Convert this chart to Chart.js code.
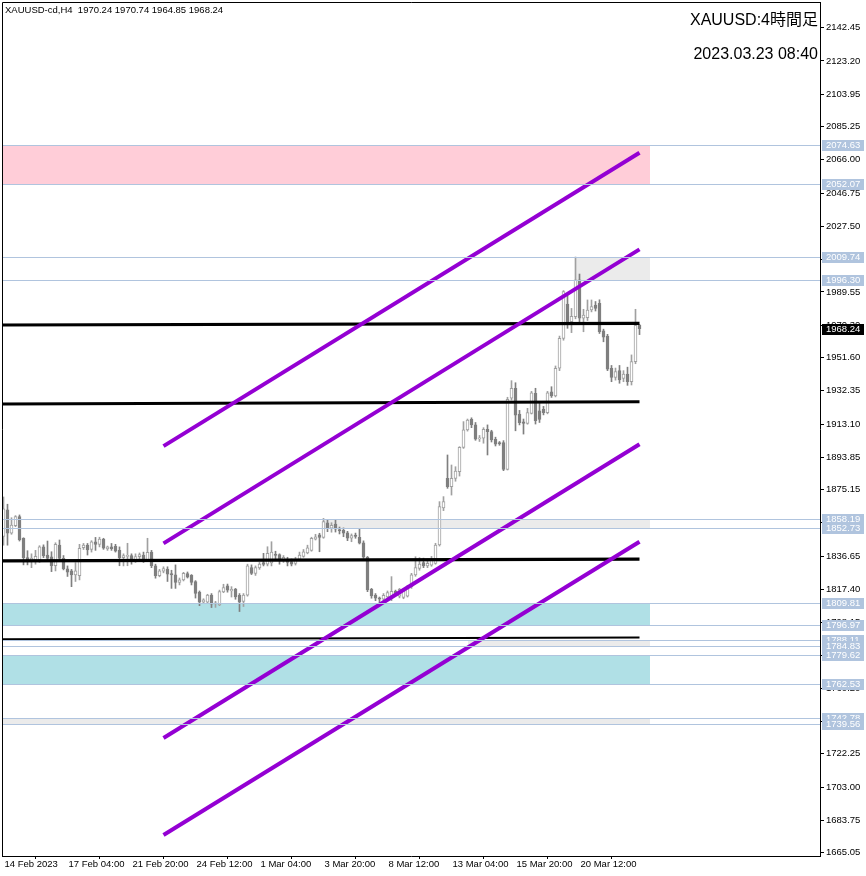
<!DOCTYPE html>
<html><head><meta charset="utf-8">
<script src="https://cdn.jsdelivr.net/npm/chart.js@4.4.0/dist/chart.umd.min.js"></script>
<style>html,body{margin:0;padding:0;background:#fff;}canvas{display:block;}</style>
</head><body>
<canvas id="c" width="866" height="876"></canvas>
<script>
// ---------------- DATA ----------------
const candleOpen = [1848,1863.4,1849.9,1854.3,1859.5,1847.0,1835.8,1834.0,1834.5,1834.4,
1842.1,1837.3,1836.3,1831.1,1843.1,1835.4,1829.3,1828.1,1825.8,1825.4,
1841.5,1843.0,1840.5,1845.0,1843.5,1846.6,1840.8,1842.0,1842.3,1840.0,
1835.8,1836.5,1837.0,1834.6,1836.4,1837.3,1834.6,1839.0,1831.1,1825.4,
1828.0,1829.2,1826.5,1825.8,1821.4,1822.9,1826.5,1825.5,1822.0,1815.9,
1810.0,1810.0,1814.1,1809.0,1808.5,1816.0,1819.5,1816.5,1817.6,1814.0,
1810.5,1814.1,1830.0,1826.7,1829.9,1833.0,1832.0,1832.8,1837.9,1837.5,
1834.5,1834.4,1833.5,1832.5,1834.8,1836.5,1838.5,1840.0,1846.5,1849.0,
1847.5,1856.0,1852.8,1855.2,1852.0,1851.6,1850.2,1847.0,1848.8,1847.6,
1844.4,1836.0,1817.4,1814.1,1812.5,1811.7,1813.0,1812.5,1816.5,1813.5,
1812.8,1813.5,1819.0,1825.8,1829.5,1832.9,1831.0,1831.5,1832.5,1843.1,
1864.5,1881.7,1876.8,1881.7,1885.6,1899.6,1909.7,1915.8,1912.6,1904.5,
1904.9,1910.1,1908.7,1904.3,1902.3,1902.3,1886.9,1928.0,1933.8,1918.9,
1914.4,1913.5,1919.3,1930.9,1920.8,1921.6,1919.7,1931.8,1929.3,1945.4,
1962.7,1982.5,1972.3,1975.3,1996.5,1974.3,1974.6,1979.1,1982.0,1983.0,
1967.0,1964.0,1945.4,1940.1,1944.0,1939.5,1942.0,1937.6,1949.2,1970.24];
const candleHigh = [1870.9,1866.7,1858.9,1860.1,1860.5,1847.3,1839.8,1838.0,1840.0,1842.7,
1843.2,1845.4,1839.2,1844.4,1846.0,1837.0,1831.0,1829.0,1832.9,1843.5,
1844.0,1844.0,1845.6,1847.5,1847.6,1847.0,1842.5,1844.0,1843.5,1842.0,
1838.0,1844.1,1838.0,1838.0,1838.5,1839.0,1847.0,1840.0,1832.0,1829.0,
1830.5,1830.5,1828.5,1831.6,1824.0,1827.3,1827.5,1826.0,1822.5,1816.5,
1812.0,1814.6,1815.0,1810.5,1817.0,1820.4,1820.5,1819.0,1818.0,1815.0,
1815.0,1832.0,1831.6,1831.0,1833.0,1838.3,1842.1,1845.0,1839.5,1838.0,
1837.0,1836.0,1835.0,1836.0,1839.0,1840.5,1843.0,1847.6,1849.3,1849.9,
1858.5,1857.6,1856.0,1857.9,1853.5,1853.0,1851.0,1849.5,1850.0,1852.2,
1845.5,1836.5,1818.0,1815.0,1813.0,1815.0,1816.5,1824.8,1817.0,1818.0,
1817.5,1819.8,1826.7,1836.3,1835.8,1835.5,1835.0,1836.5,1844.1,1868.2,
1871.1,1895.2,1889.4,1888.4,1900.0,1914.5,1916.0,1916.7,1914.0,1906.5,
1911.0,1912.6,1909.5,1905.5,1903.0,1903.5,1928.6,1938.2,1937.0,1921.0,
1916.0,1922.2,1932.0,1933.8,1926.0,1923.3,1932.0,1934.7,1946.7,1964.0,
1990.3,1988.7,1980.0,2009.74,1999.9,1979.5,1984.9,1984.9,1984.0,1985.0,
1968.0,1965.0,1947.0,1945.5,1947.0,1944.0,1946.0,1953.1,1979.5,1970.74];
const candleLow = [1843.0,1843.0,1849.3,1853.7,1845.4,1831.6,1831.6,1830.0,1832.0,1833.0,
1835.8,1834.4,1827.7,1828.1,1834.4,1828.7,1824.9,1819.0,1822.0,1822.9,
1840.5,1837.3,1839.0,1840.0,1842.0,1840.6,1840.0,1840.0,1839.0,1831.1,
1831.0,1831.1,1832.0,1833.0,1835.0,1833.0,1833.5,1830.0,1823.9,1824.7,
1827.0,1822.0,1818.0,1818.0,1820.0,1822.3,1824.0,1820.0,1812.4,1808.0,
1809.5,1809.5,1806.9,1807.0,1808.0,1815.5,1815.8,1813.0,1811.7,1804.6,
1807.5,1813.5,1826.0,1825.5,1829.0,1831.0,1831.0,1831.0,1835.0,1832.0,
1833.0,1831.0,1831.0,1831.5,1834.0,1836.0,1838.0,1839.5,1846.0,1839.2,
1847.0,1850.8,1850.5,1850.6,1849.5,1847.9,1845.6,1845.0,1847.0,1843.7,
1835.4,1816.1,1812.3,1810.9,1809.8,1809.8,1811.0,1810.9,1814.0,1812.5,
1812.0,1813.0,1818.0,1825.0,1828.5,1830.0,1830.0,1830.8,1832.0,1842.5,
1863.0,1875.9,1872.0,1880.0,1883.0,1899.0,1909.0,1911.0,1903.7,1903.0,
1902.0,1895.2,1902.7,1900.4,1900.8,1886.1,1886.5,1927.0,1909.2,1912.6,
1907.3,1913.0,1918.9,1913.1,1914.0,1918.4,1919.0,1928.5,1928.8,1944.0,
1961.6,1968.5,1966.0,1974.0,1972.3,1966.5,1973.0,1978.0,1978.5,1965.5,
1960.7,1944.0,1937.6,1938.5,1936.7,1937.6,1935.5,1935.7,1948.0,1964.85];
const candleClose = [1864.0,1849.9,1854.7,1859.5,1846.0,1835.8,1834.0,1835.5,1836.5,1842.1,
1836.9,1835.4,1831.1,1843.5,1835.4,1829.3,1827.4,1825.8,1828.1,1841.2,
1843.1,1840.2,1845.0,1843.5,1846.6,1841.2,1842.0,1841.0,1839.6,1835.8,
1837.0,1837.1,1834.6,1836.4,1837.5,1834.6,1838.9,1831.1,1825.4,1828.1,
1829.5,1826.2,1825.8,1821.4,1822.9,1826.7,1824.5,1821.4,1815.1,1810.0,
1811.4,1814.1,1808.8,1809.3,1816.2,1818.4,1817.0,1817.5,1813.1,1810.0,
1814.1,1831.1,1826.7,1830.0,1832.1,1831.8,1838.3,1839.0,1837.1,1834.4,
1836.0,1833.0,1832.0,1834.5,1837.3,1839.2,1841.5,1847.0,1847.8,1847.5,
1856.6,1852.8,1854.5,1852.3,1851.2,1849.9,1847.0,1848.5,1848.0,1844.1,
1836.0,1817.1,1813.6,1812.3,1811.8,1814.0,1815.5,1816.3,1815.0,1817.5,
1816.5,1819.0,1825.8,1830.0,1832.0,1831.0,1832.5,1834.8,1843.1,1865.3,
1868.2,1876.8,1881.7,1885.9,1899.6,1909.7,1915.45,1912.6,1904.3,1905.0,
1910.1,1908.7,1903.9,1901.5,1901.6,1886.9,1927.4,1933.8,1918.3,1913.9,
1913.5,1919.7,1931.2,1915.0,1915.8,1919.7,1931.2,1929.3,1945.4,1962.7,
1989.7,1972.3,1975.5,1996.5,1974.3,1976.2,1979.1,1981.0,1980.0,1966.5,
1963.3,1944.8,1940.1,1943.4,1938.6,1942.0,1937.6,1949.2,1970.2,1968.24];

const timeTickIndex = [0,16,32,48,64,80,96,112,128,144];
const timeTickLabels = ['14 Feb 2023','17 Feb 04:00','21 Feb 20:00','24 Feb 12:00','1 Mar 04:00','3 Mar 20:00','8 Mar 12:00','13 Mar 04:00','15 Mar 20:00','20 Mar 12:00'];
const priceTicks = [2142.45,2123.20,2103.95,2085.25,2066.00,2046.75,2027.50,2008.25,1989.55,1970.30,1951.60,1932.35,1913.10,1893.85,1875.15,1855.90,1836.65,1817.40,1798.15,1779.45,1760.20,1740.95,1722.25,1703.00,1683.75,1665.05];
const levelPrices = [2074.63,2052.07,2009.74,1996.30,1858.19,1852.73,1809.81,1796.97,1788.11,1784.83,1779.62,1762.53,1742.78,1739.56];
const lastPrice = 1968.24;
const headerText = 'XAUUSD-cd,H4  1970.24 1970.74 1964.85 1968.24';
const titleText = 'XAUUSD:4時間足';
const timeText = '2023.03.23 08:40';

// zones: start bar index, end bar index, low, high
const zoneStart = [-1, 143, 80, -1, 116, -1, -1];
const zoneEnd   = [161.6, 161.6, 161.6, 161.6, 161.6, 161.6, 161.6];
const zoneLow   = [2052.07, 1996.30, 1852.73, 1796.97, 1784.83, 1762.53, 1739.56];
const zoneHigh  = [2074.63, 2009.74, 1858.19, 1809.81, 1788.11, 1779.62, 1742.78];
const zoneKind  = ['pink','gray','gray','cyan','gray','cyan','gray'];

// channel (purple) lines
const channelStartIdx = 40, channelEndIdx = 159;
const channelStartPrice = [1900.3, 1844.05, 1731.4, 1675.3];
const channelEndPrice   = [2070.1, 2014.2, 1901.4, 1845.0];
// black support/resistance lines
const flatStartIdx = -1, flatEndIdx = 159;
const flatStartPrice = [1970.4, 1924.7, 1833.9, 1788.6];
const flatEndPrice   = [1971.4, 1926.0, 1834.9, 1789.6];

// ---------------- STYLE ----------------
const FONT = "'Liberation Sans', Arial, sans-serif";
const zoneColors = {pink:'#ffcdd8', gray:'#ebebeb', cyan:'#b0e0e6'};
const bullColor = '#a0a0a0', bearColor = '#7f7f7f';
const n = candleOpen.length;
const bodies = [], wicks = [];
for (let i = 0; i < n; i++) {
  bodies.push({x: i, y: [candleOpen[i], candleClose[i]]});
  wicks.push({x: i, y: [candleLow[i], candleHigh[i]]});
}
const isBull = i => candleClose[i] >= candleOpen[i];

const lineSets = [];
channelStartPrice.forEach((p, k) => lineSets.push({
  type: 'line', data: [{x: channelStartIdx, y: p}, {x: channelEndIdx, y: channelEndPrice[k]}],
  borderColor: '#9400d3', borderWidth: 4, pointRadius: 0, borderCapStyle: 'butt'
}));
flatStartPrice.forEach((p, k) => lineSets.push({
  type: 'line', data: [{x: flatStartIdx, y: p}, {x: flatEndIdx, y: flatEndPrice[k]}],
  borderColor: '#000', borderWidth: k === 3 ? 2 : 3.2, pointRadius: 0, borderCapStyle: 'butt'
}));

const overlay = {
  id: 'overlay',
  beforeDatasetsDraw(chart) {
    const {ctx, chartArea: a, scales: {x, y}} = chart;
    ctx.save();
    ctx.beginPath(); ctx.rect(a.left, a.top, a.right - a.left, a.bottom - a.top); ctx.clip();
    for (let i = 0; i < zoneLow.length; i++) {
      const x1 = Math.max(a.left, Math.round(x.getPixelForValue(zoneStart[i])));
      const x2 = Math.round(x.getPixelForValue(zoneEnd[i]));
      const y1 = Math.round(y.getPixelForValue(zoneHigh[i]));
      const y2 = Math.round(y.getPixelForValue(zoneLow[i]));
      ctx.fillStyle = zoneColors[zoneKind[i]];
      ctx.fillRect(x1, y1, x2 - x1, y2 - y1);
    }
    ctx.restore();
  },
  afterDatasetsDraw(chart) {
    const {ctx, chartArea: a, scales: {y}} = chart;
    ctx.save();
    ctx.strokeStyle = '#b0c4de'; ctx.lineWidth = 1;
    levelPrices.forEach(p => {
      const py = Math.round(y.getPixelForValue(p)) + 0.5;
      ctx.beginPath(); ctx.moveTo(a.left, py); ctx.lineTo(a.right, py); ctx.stroke();
    });
    ctx.strokeStyle = '#000';
    ctx.beginPath(); ctx.moveTo(a.left + 0.5, a.bottom); ctx.lineTo(a.left + 0.5, a.top + 0.5); ctx.lineTo(a.right, a.top + 0.5); ctx.stroke();
    ctx.restore();
  },
  afterDraw(chart) {
    const {ctx, chartArea: a, scales: {y}} = chart;
    ctx.save();
    ctx.font = '9.5px ' + FONT; ctx.textBaseline = 'middle'; ctx.textAlign = 'left';
    levelPrices.forEach(p => {
      const py = Math.round(y.getPixelForValue(p));
      ctx.fillStyle = '#b0c4de'; ctx.fillRect(a.right + 2, py - 5, 42, 11);
      ctx.fillStyle = '#fff'; ctx.fillText(p.toFixed(2), a.right + 6, py + 0.5);
    });
    const lp = Math.round(y.getPixelForValue(lastPrice));
    ctx.fillStyle = '#000'; ctx.fillRect(a.right + 2, lp - 5, 42, 11);
    ctx.fillStyle = '#fff'; ctx.fillText(lastPrice.toFixed(2), a.right + 6, lp + 0.5);
    ctx.fillStyle = '#000';
    ctx.fillText(headerText, 5, 10);
    ctx.font = "16px 'Liberation Sans', 'Noto Sans CJK JP', sans-serif";
    ctx.textAlign = 'right';
    ctx.fillText(titleText, a.right - 2, 21);
    ctx.fillText(timeText, a.right - 2, 55);
    ctx.restore();
  }
};

Chart.defaults.font.family = FONT;
Chart.defaults.font.size = 9.5;
Chart.defaults.color = '#000';

new Chart(document.getElementById('c'), {
  type: 'bar',
  data: {
    datasets: [
      ...lineSets,
      {
        type: 'bar', data: bodies, grouped: false, barThickness: 3, minBarLength: 1,
        backgroundColor: c => isBull(c.dataIndex) ? '#ffffff' : bearColor,
        borderColor: c => isBull(c.dataIndex) ? bullColor : bearColor,
        borderWidth: 1, borderSkipped: false
      },
      {
        type: 'bar', data: wicks, grouped: false, barThickness: 1,
        backgroundColor: c => isBull(c.dataIndex) ? bullColor : bearColor,
        borderWidth: 0
      }
    ]
  },
  options: {
    responsive: false, animation: false, devicePixelRatio: 1,
    layout: {padding: {left: 2, top: 2, right: 0, bottom: 0}},
    plugins: {legend: {display: false}, tooltip: {enabled: false}},
    scales: {
      x: {
        type: 'linear', min: -0.375, max: 204.125, offset: false,
        afterBuildTicks: s => { s.ticks = timeTickIndex.map(v => ({value: v})); },
        afterFit: s => { s.height = 20; s.paddingLeft = 0; s.paddingRight = 0; },
        ticks: {
          autoSkip: false, maxRotation: 0, align: 'start', padding: 0, labelOffset: 1,
          callback: v => timeTickLabels[timeTickIndex.indexOf(v)] ?? ''
        },
        grid: {drawOnChartArea: false, drawTicks: true, tickLength: 3, color: '#000'},
        border: {color: '#000'}
      },
      y: {
        type: 'linear', position: 'right', min: 1663.14, max: 2157.32,
        afterBuildTicks: s => { s.ticks = priceTicks.map(v => ({value: v})); },
        afterFit: s => { s.width = 46; s.paddingTop = 0; s.paddingBottom = 0; },
        ticks: {autoSkip: false, padding: 2, callback: v => Number(v).toFixed(2)},
        grid: {drawOnChartArea: false, drawTicks: true, tickLength: 4, color: '#000'},
        border: {color: '#000'}
      }
    }
  },
  plugins: [overlay]
});
</script>
</body></html>
